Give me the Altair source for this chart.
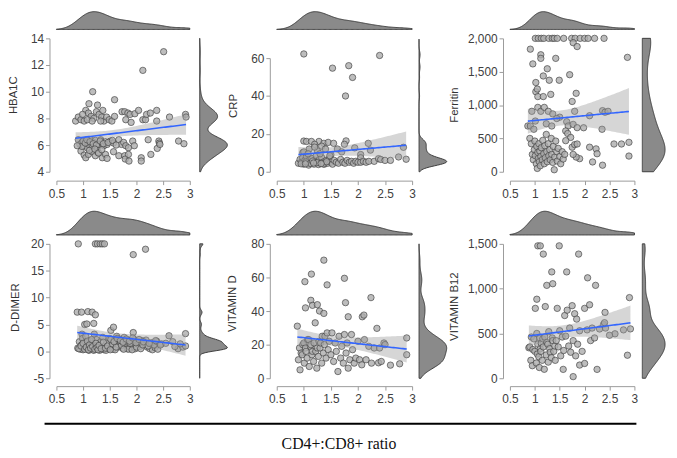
import numpy as np
import pandas as pd
import altair as alt

# ---------------- data ----------------
X_TITLE = "CD4+:CD8+ ratio"
X_TICKS = [0.5, 1, 1.5, 2, 2.5, 3]

HBA1C_X = [2.51, 2.12, 1.18, 1.59, 1.11, 1.27,
           0.86, 0.91, 0.96, 1.02, 1.05, 1.10, 1.15, 1.20, 1.25, 1.30, 1.35, 1.37, 1.39, 1.44, 1.49, 1.54, 1.59,
           1.73, 1.78, 1.80, 1.84, 1.88, 1.90, 1.97, 2.04, 2.12, 2.17, 2.19, 2.26, 2.38, 2.38, 2.62, 2.92, 2.93,
           1.08, 1.17, 1.33, 0.99,
           0.91, 0.94, 0.98, 1.02, 1.05, 1.08, 1.11, 1.14, 1.17, 1.20, 1.23, 1.27, 1.30, 1.33, 1.36, 1.39, 1.42,
           1.45, 1.51, 1.57, 1.67, 1.72, 1.76, 1.80, 1.85, 1.93, 1.96, 2.22, 2.42, 2.43, 2.79, 2.89,
           0.96, 1.02, 1.05, 1.10, 1.17, 1.23, 1.28, 1.36, 1.42, 1.45, 1.57, 1.67, 1.78, 1.79, 1.85, 1.86, 2.09,
           2.09, 2.27, 2.39, 2.44, 0.98, 0.89,
           1.00, 1.04, 1.07, 1.13, 1.19, 1.25, 1.32, 1.38, 1.47, 1.55, 1.62, 1.12, 1.22, 1.29, 1.35]
HBA1C_Y = [13.0, 11.6, 10.0, 9.4, 9.1, 9.0,
           7.8, 8.1, 7.9, 7.8, 8.6, 8.4, 8.15, 8.0, 8.5, 8.3, 8.1, 8.6, 7.8, 8.1, 7.9, 7.8, 8.15,
           8.5, 8.5, 7.9, 8.4, 8.3, 7.7, 8.35, 8.6, 7.9, 7.9, 8.3, 8.4, 8.6, 7.8, 8.1, 8.3, 8.1,
           7.9, 7.8, 7.8, 8.3,
           6.4, 6.05, 6.2, 5.95, 6.3, 5.8, 6.05, 6.4, 5.95, 6.2, 6.35, 5.8, 6.05, 6.4, 6.2, 5.95, 6.25,
           6.05, 6.3, 6.15, 6.4, 6.05, 6.2, 5.95, 5.8, 6.3, 5.95, 6.4, 6.3, 6.15, 6.3, 6.1,
           5.55, 5.25, 5.05, 5.3, 5.5, 5.2, 5.45, 5.05, 5.3, 5.0, 5.5, 5.2, 5.2, 4.95, 5.3, 4.8, 5.05,
           4.8, 5.3, 5.75, 6.05, 5.9, 5.95,
           6.3, 6.15, 6.4, 6.25, 6.1, 6.0, 6.3, 6.1, 6.2, 6.35, 6.0, 5.6, 5.7, 5.4, 5.65]

CRP_X = [1.00, 1.53, 1.83, 1.90, 1.77, 2.40,
         1.00, 1.05, 1.14, 1.28, 1.37, 1.45, 1.55, 1.78, 1.75, 2.19, 1.20, 1.33, 1.40, 1.62, 1.70, 1.94,
         2.23, 1.25, 1.10, 0.98, 2.84, 1.50, 2.05, 2.05,
         0.90, 0.93, 0.96, 0.98, 1.00, 1.02, 1.05, 1.07, 1.09, 1.11, 1.13, 1.15, 1.17, 1.19, 1.21, 1.23,
         1.25, 1.27, 1.29, 1.31, 1.33, 1.35, 1.38, 1.41, 1.44, 1.47, 1.50, 1.53, 1.56, 1.60, 1.64, 1.68,
         1.72, 1.76, 1.80, 1.84, 1.88, 1.92, 1.96, 2.00, 2.05, 2.10, 2.15, 2.20, 2.30, 2.38, 2.42, 2.50,
         2.60, 2.75, 2.89,
         0.95, 1.00, 1.04, 1.08, 1.12, 1.16, 1.20, 1.24, 1.30, 1.36, 1.42, 1.48, 1.03, 1.18, 1.32]
CRP_Y = [62.2, 54.7, 56.0, 49.8, 40.0, 61.4,
         16.2, 16.0, 16.0, 16.0, 15.0, 15.5, 15.0, 16.3, 14.5, 15.0, 14.5, 13.5, 12.0, 12.0, 10.5, 12.6,
         11.4, 11.0, 12.0, 10.0, 12.9, 9.0, 9.1, 7.4,
         4.5, 6.5, 5.0, 7.5, 4.0, 6.0, 8.0, 5.0, 3.5, 6.5, 4.5, 7.0, 5.5, 4.0, 6.0, 8.5,
         5.0, 3.8, 6.5, 4.5, 7.5, 5.0, 4.0, 6.0, 4.5, 7.0, 5.0, 4.0, 6.0, 5.0, 4.5, 6.5,
         5.0, 4.5, 6.0, 5.0, 5.5, 4.5, 5.5, 5.0, 5.0, 5.5, 5.0, 5.5, 5.5, 6.9, 6.5, 6.0,
         6.0, 7.8, 6.6,
         4.2, 10.5, 5.2, 9.5, 4.4, 5.6, 13.0, 4.8, 9.5, 4.1, 5.3, 8.5, 4.2, 4.6, 4.3]

FERRITIN_X = [1.01, 1.07, 1.13, 1.18, 1.28, 1.35, 1.39, 1.45, 1.58, 1.74, 1.81, 1.91, 2.00, 2.07, 2.20, 2.39,
              1.77, 1.85,
              0.91, 0.96, 1.12, 1.12, 1.42, 1.17, 1.25, 1.29, 1.49, 1.70, 2.86,
              1.02, 1.02, 1.05, 1.06, 1.17, 1.32, 1.83, 1.75, 1.80, 2.10, 2.36, 2.41, 2.47,
              0.94, 1.06, 1.12, 1.19, 1.27, 1.36, 1.50, 1.64, 1.67, 1.77, 1.62, 1.66, 0.86, 0.91, 0.98, 1.01,
              1.23, 1.44, 1.34, 1.98, 2.35, 1.85,
              2.59, 2.74, 2.89, 2.89, 2.36, 2.16, 2.10, 2.23, 2.25, 1.90, 1.83, 1.77, 1.75, 1.80, 1.85, 1.72,
              1.62,
              0.90, 0.93, 0.95, 0.97, 0.99, 1.00, 1.01, 1.03, 1.04, 1.05, 1.06, 1.07, 1.08, 1.09, 1.10, 1.11,
              1.12, 1.13, 1.15, 1.16, 1.18, 1.19, 1.20, 1.21, 1.23, 1.24, 1.25, 1.27, 1.28, 1.30, 1.31, 1.33,
              1.34, 1.36, 1.37, 1.39, 1.40, 1.42, 1.44, 1.45, 1.47, 1.50, 1.52, 1.55, 1.57, 1.60]
FERRITIN_Y = [2000, 2000, 2000, 2000, 2000, 2000, 2000, 2000, 2000, 2000, 2000, 2000, 2000, 2000, 2000, 2000,
              1935, 1877,
              1838, 1617, 1754, 1700, 1700, 1436, 1544, 1372, 1372, 1455, 1715,
              1338, 1200, 1240, 1127, 1127, 1160, 1176, 1054, 906, 840, 916, 892, 906,
              906, 965, 906, 965, 906, 867, 818, 750, 686, 710, 612, 573, 686, 686, 637, 760,
              720, 798, 686, 660, 637, 661,
              416, 416, 441, 235, 98, 147, 368, 343, 270, 196, 220, 260, 368, 407, 416, 515,
              466,
              500, 420, 260, 180, 330, 460, 240, 120, 380, 50, 290, 200, 420, 150, 310, 90,
              230, 360, 180, 470, 270, 120, 390, 210, 560, 300, 150, 420, 240, 330, 180, 500,
              260, 140, 380, 30, 220, 460, 300, 160, 350, 230, 120, 300, 190, 260]

DDIMER_X = [0.91, 1.23, 1.27, 1.32, 1.36, 1.40, 1.94, 2.17,
            0.89, 0.97, 1.09, 1.17, 1.23, 1.03, 1.07, 1.20, 0.98, 1.52, 1.57, 1.94, 2.61, 2.92,
            0.90, 0.93, 0.95, 0.97, 0.99, 1.00, 1.02, 1.04, 1.05, 1.07, 1.09, 1.11, 1.13, 1.15, 1.17, 1.19,
            1.21, 1.23, 1.25, 1.27, 1.29, 1.31, 1.33, 1.35, 1.37, 1.39, 1.41, 1.43, 1.45, 1.48, 1.50, 1.53,
            1.56, 1.60, 1.63, 1.66, 1.70, 1.74, 1.77, 1.80, 1.83, 1.86, 1.90, 1.94, 1.98, 2.02, 2.06, 2.10,
            2.15, 2.20, 2.25, 2.30, 2.35, 2.40, 2.47, 2.78, 2.87, 2.92, 1.85, 1.60, 1.20,
            0.92, 0.96, 1.00, 1.03, 1.06, 1.08, 1.10, 1.12, 1.14, 1.16, 1.18, 1.22, 1.24, 1.26, 1.28, 1.30,
            1.34, 1.38, 1.42, 1.46, 1.51, 1.55, 1.58, 1.62, 1.68, 1.72, 1.76, 1.82, 1.88, 1.92, 1.96, 2.00,
            2.04, 2.08, 2.12, 2.18, 2.22, 2.28, 2.33, 2.38,
            1.52, 1.58, 1.64, 1.70, 1.75, 1.81, 1.87, 1.93, 1.99, 2.05, 2.13, 2.24, 2.36, 2.45, 2.55, 2.68,
            2.82, 2.72]
DDIMER_Y = [20, 20, 20, 20, 20, 20, 18, 19,
            7.3, 7.3, 7.4, 7.3, 6.8, 5.0, 5.1, 5.2, 3.2, 3.9, 4.5, 3.5, 2.9, 3.3,
            0.6, 1.8, 0.4, 1.2, 2.4, 0.3, 0.9, 1.6, 2.8, 0.5, 1.1, 0.2, 2.0, 0.7, 1.4, 0.3,
            3.2, 0.9, 2.2, 0.4, 1.2, 0.2, 1.8, 0.6, 2.6, 0.3, 1.0, 0.2, 1.6, 0.5, 2.4, 1.0,
            0.4, 1.9, 2.8, 0.8, 1.5, 0.6, 2.6, 1.3, 0.5, 2.0, 0.6, 1.2, 0.5, 1.7, 0.9, 2.0,
            1.6, 0.8, 0.5, 0.3, 0.7, 0.4, 1.4, 0.5, 0.8, 1.0, 0.4, 0.3, 0.2,
            0.5, 1.0, 1.5, 0.4, 0.8, 1.9, 0.3, 1.2, 0.6, 2.2, 0.9, 0.4, 1.5, 0.7, 0.3, 1.1,
            0.5, 1.7, 0.6, 1.0, 0.3, 1.4, 2.1, 0.8, 2.3, 1.1, 0.4, 1.9, 1.5, 0.3, 2.2, 0.8,
            1.8, 0.5, 1.2, 2.1, 1.0, 1.6, 1.2, 1.9,
            2.2, 1.8, 2.4, 2.0, 1.7, 2.3, 1.9, 2.5, 1.6, 2.2, 1.8, 1.5, 2.0, 1.2, 1.5, 1.8,
            1.4, 0.9]

VITD_X = [1.37, 1.14, 1.02, 1.43, 1.75, 2.24, 1.77, 1.03, 1.13, 1.16, 1.25, 1.29, 1.37, 1.82, 2.08, 2.11,
          2.35, 2.48, 2.90, 2.90, 2.77, 2.60, 2.38, 2.50,
          0.88, 0.90, 0.92, 0.93, 0.95, 0.97, 0.98, 1.00, 1.01, 1.03, 1.04, 1.06, 1.07, 1.09, 1.10, 1.12,
          1.13, 1.15, 1.16, 1.18, 1.19, 1.21, 1.22, 1.24, 1.25, 1.27, 1.28, 1.30, 1.31, 1.33, 1.34, 1.36,
          1.38, 1.39, 1.41, 1.43, 1.45, 1.47, 1.50, 1.52, 1.55, 1.58, 1.60, 1.63, 1.65, 1.68, 1.70, 1.73,
          1.75, 1.78, 1.80, 1.82, 1.85, 1.88, 1.90, 1.93, 1.96, 2.00, 2.03, 2.07, 2.12, 2.15, 2.20, 2.25,
          2.30, 2.40, 2.43]
VITD_Y = [70.3, 62, 57.5, 55.6, 59.5, 48, 45, 41.9, 46.4, 43.4, 43.8, 40, 38.6, 36.6, 36.6, 37.6,
          29.7, 21, 24, 14, 8.6, 7.8, 9.2, 20,
          31, 11, 18, 5, 15, 14, 20, 21, 9, 18, 16, 12, 23, 23, 7, 19,
          20, 14, 16, 10, 21, 33, 16, 6, 18, 13, 22, 18, 21, 9, 25, 15,
          20, 25, 12, 27, 17, 22, 14, 27, 10, 21, 16, 4, 25, 12, 19, 9,
          26, 15, 21, 6, 11, 26, 17, 9, 12, 22, 11, 8, 23, 11, 19, 9,
          18, 18, 10]

B12_X = [1.06, 1.11, 1.49, 1.17, 1.88, 1.34, 1.64, 2.06, 1.24, 1.36, 2.22, 2.90, 1.04, 2.41, 2.61, 2.78,
         2.92, 2.86, 2.25, 1.77, 1.57, 1.90, 2.00,
         0.88, 0.90, 0.92, 0.93, 0.95, 0.96, 0.98, 1.00, 1.01, 1.03, 1.04, 1.05, 1.06, 1.08, 1.09, 1.10,
         1.11, 1.12, 1.13, 1.15, 1.16, 1.17, 1.19, 1.20, 1.21, 1.23, 1.24, 1.26, 1.27, 1.28, 1.30, 1.31,
         1.33, 1.35, 1.36, 1.38, 1.40, 1.41, 1.43, 1.45, 1.47, 1.50, 1.52, 1.55, 1.58, 1.60, 1.62, 1.65,
         1.68, 1.70, 1.72, 1.75, 1.77, 1.80, 1.82, 1.84, 1.86, 1.90, 1.95, 2.00, 2.05, 2.10, 2.12, 2.15,
         2.20, 2.30, 2.38, 2.42, 2.50, 2.40]
B12_Y = [1478, 1478, 1478, 1386, 1386, 1187, 1187, 1121, 1037, 1055, 1037, 900, 882, 735, 496, 540,
         551, 257, 99, 18, 99, 147, 165,
         340, 350, 200, 460, 140, 320, 440, 300, 780, 170, 500, 270, 380, 240, 120, 450,
         330, 300, 390, 200, 440, 350, 100, 460, 800, 260, 400, 380, 180, 520, 330, 290,
         230, 450, 420, 300, 360, 200, 420, 780, 350, 530, 250, 460, 310, 700, 470, 760,
         360, 560, 290, 810, 420, 720, 250, 660, 380, 530, 300, 780, 540, 820, 420, 560,
         450, 550, 600, 560, 480, 620]

PANELS = [
    dict(name="HBA1C", x=HBA1C_X, y=HBA1C_Y, domain=[4, 14], ticks=[4, 6, 8, 10, 12, 14],
         dext=[4, 14], label="datum.value + ''"),
    dict(name="CRP", x=CRP_X, y=CRP_Y, domain=[0, 60], ticks=[0, 20, 40, 60],
         dext=[0, 70], label="datum.value + ''"),
    dict(name="Ferritin", x=FERRITIN_X, y=FERRITIN_Y, domain=[0, 2000], ticks=[0, 500, 1000, 1500, 2000],
         dext=[0, 2000], label="format(datum.value, ',')"),
    dict(name="D-DIMER", x=DDIMER_X, y=DDIMER_Y, domain=[-5, 20], ticks=[-5, 0, 5, 10, 15, 20],
         dext=[-5, 20], label="datum.value + ''"),
    dict(name="VITAMIN D", x=VITD_X, y=VITD_Y, domain=[0, 80], ticks=[0, 20, 40, 60, 80],
         dext=[0, 80], label="datum.value + ''"),
    dict(name="VITAMIN B12", x=B12_X, y=B12_Y, domain=[0, 1500], ticks=[0, 500, 1000, 1500],
         dext=[0, 1500], label="format(datum.value, ',')"),
]

# ---------------- layout (view pixels) ----------------
W, H = 669, 450
COLS = [dict(x0=49, x1=184, yax=42, rd0=194, rd1=222),
        dict(x0=272, x1=409, yax=265, rd0=416, rd1=444),
        dict(x0=508, x1=634, yax=501, rd0=642, rd1=665)]
ROWS = [dict(xax=172, td0=19, td1=1),
        dict(xax=380, td0=227, td1=203)]
YRANGES = [[163, 28], [163, 48], [163, 28], [372, 236], [372, 236], [372, 236]]
TITLE_POS = [(-36, 85), (-37, 96), (-49, 95), (-34, 300), (-38, 296), (-49, 299)]

FONT = "Liberation Sans"
AX_COLOR = "#9a9a9a"
LAB_COLOR = "#404040"


def nrd0(v):
    v = np.asarray(v, float)
    sd = v.std(ddof=1)
    q75, q25 = np.percentile(v, [75, 25])
    lo = min(sd, (q75 - q25) / 1.34) if q75 > q25 else sd
    return float(0.9 * lo * len(v) ** -0.2)


def fit_band(xs, ys, n=60):
    x = np.asarray(xs, float)
    y = np.asarray(ys, float)
    N = len(x)
    b, a = np.polyfit(x, y, 1)
    grid = np.linspace(x.min(), x.max(), n)
    yhat = a + b * grid
    resid = y - (a + b * x)
    s = np.sqrt(np.sum(resid ** 2) / (N - 2))
    se = s * np.sqrt(1.0 / N + (grid - x.mean()) ** 2 / np.sum((x - x.mean()) ** 2))
    t = 1.98
    return pd.DataFrame({"x": grid, "fit": yhat, "lo": yhat - t * se, "hi": yhat + t * se})


layers = []
for i, p in enumerate(PANELS):
    col = COLS[i % 3]
    row = ROWS[i // 3]
    df = pd.DataFrame({"x": p["x"], "y": p["y"]})
    xsc = alt.Scale(domain=[0.5, 3], range=[col["x0"], col["x1"]], nice=False, zero=False)
    ysc = alt.Scale(domain=p["domain"], range=YRANGES[i], nice=False, zero=False)
    base = alt.Chart(df)

    top = base.transform_density(
        "x", as_=["v", "d"], extent=[0.5, 3], steps=160, bandwidth=nrd0(p["x"])
    ).mark_area(fill="#8a8a8a", stroke="#3c3c3c", strokeWidth=1).encode(
        x=alt.X("v:Q", scale=xsc, axis=None),
        y=alt.Y("d:Q", scale=alt.Scale(range=[row["td0"], row["td1"]], nice=False, zero=True), axis=None),
    )
    right = base.transform_density(
        "y", as_=["v", "d"], extent=p["dext"], steps=200, bandwidth=nrd0(p["y"])
    ).mark_area(orient="horizontal", fill="#8a8a8a", stroke="#3c3c3c", strokeWidth=1).encode(
        y=alt.Y("v:Q", scale=ysc, axis=None),
        x=alt.X("d:Q", scale=alt.Scale(range=[col["rd0"], col["rd1"]], nice=False, zero=True), axis=None),
    )

    xaxis = alt.Axis(orient="bottom", offset=row["xax"] - H, values=X_TICKS, labelExpr="datum.value + ''",
                     title=None, grid=False, tickSize=4, labelPadding=4, labelFlush=False,
                     labelOverlap=False, domainColor=AX_COLOR, tickColor=AX_COLOR,
                     labelColor=LAB_COLOR, labelFont=FONT, labelFontSize=12)
    tx, ty = TITLE_POS[i]
    yaxis = alt.Axis(orient="left", offset=-col["yax"], values=p["ticks"], labelExpr=p["label"],
                     title=p["name"], titleX=tx, titleY=ty, titleAngle=270, titleAlign="center",
                     titleBaseline="middle", titleFont=FONT, titleFontSize=11.5, titleFontWeight="normal",
                     titleColor="#333333", grid=False, tickSize=4, labelPadding=2, labelFlush=False,
                     labelOverlap=False, domainColor=AX_COLOR, tickColor=AX_COLOR,
                     labelColor=LAB_COLOR, labelFont=FONT, labelFontSize=12)

    pts = base.mark_circle(size=42, fill="#acacac", fillOpacity=0.8, stroke="#3a3a3a",
                           strokeWidth=0.7, strokeOpacity=0.9).encode(
        x=alt.X("x:Q", scale=xsc, axis=xaxis),
        y=alt.Y("y:Q", scale=ysc, axis=yaxis),
    )
    fit = fit_band(p["x"], p["y"])
    band = alt.Chart(fit).mark_area(fill="#999999", opacity=0.4).encode(
        x=alt.X("x:Q", scale=xsc, axis=None),
        y=alt.Y("lo:Q", scale=ysc, axis=None),
        y2="hi:Q",
    )
    line = alt.Chart(fit).mark_line(color="#3366FF", strokeWidth=1.6).encode(
        x=alt.X("x:Q", scale=xsc, axis=None),
        y=alt.Y("fit:Q", scale=ysc, axis=None),
    )
    layers += [top, right, pts, band, line]

one = pd.DataFrame({"k": [0]})
rule = alt.Chart(one).mark_rule(color="black", strokeWidth=2).encode(
    x=alt.value(37), x2=alt.value(636), y=alt.value(418))
xtitle = alt.Chart(one).mark_text(text=X_TITLE, font="Liberation Serif", fontSize=16,
                                  color="#111111", align="center", baseline="alphabetic").encode(
    x=alt.value(335), y=alt.value(444))
layers += [rule, xtitle]

chart = alt.layer(*layers).resolve_scale(x="independent", y="independent").properties(
    width=W, height=H, padding=0, autosize=alt.AutoSizeParams(type="none")
).configure_view(stroke=None)

chart.save("out.html", embed_options={"renderer": "svg", "actions": False})
